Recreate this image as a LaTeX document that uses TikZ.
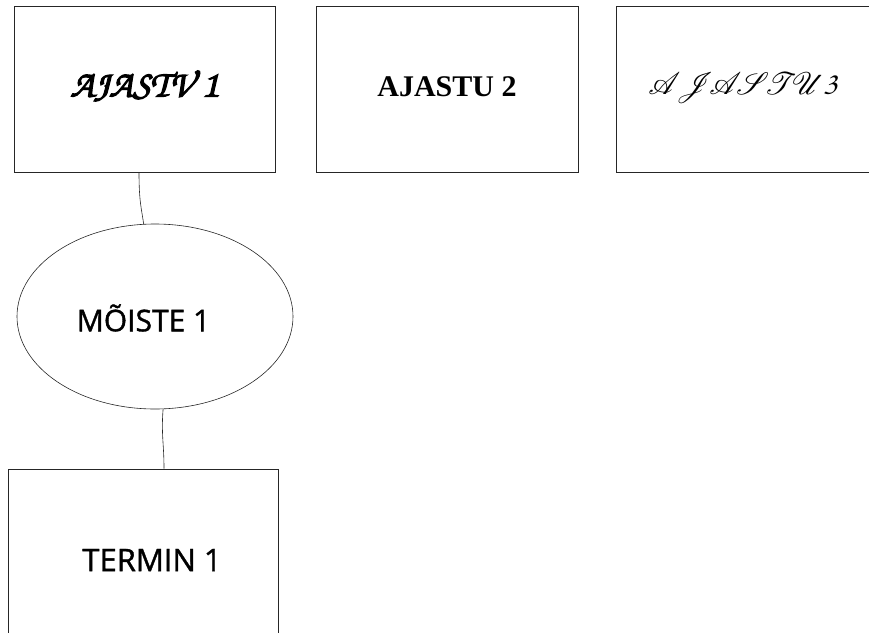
\documentclass[tikz,border=0pt]{standalone}
\usepackage[T1]{fontenc}
\usepackage{graphicx}
\usepackage{fontspec}
\setmainfont{Open Sans}
\newfontfamily\semib{Open Sans}[FakeBold=1.2]
\newfontfamily\serifbold{Liberation Serif}
\IfFileExists{t1pzc.fd}{%
  \newcommand\chanc{\fontencoding{T1}\fontfamily{pzc}\fontseries{mb}\fontshape{it}\selectfont}%
}{%
  \newcommand\chanc{\serifbold\itshape}%
}
\newif\ifhavescr
\IfFileExists{mathrsfs.sty}{\usepackage{mathrsfs}\havescrtrue}{\havescrfalse}
\newcommand\fancyscr[1]{\ifhavescr$\mathscr{#1}$\else{\chanc #1}\fi}
\newcommand\heavy[1]{\special{pdf:literal direct 2 Tr 1.1 w}#1\special{pdf:literal direct 0 Tr}}
\usetikzlibrary{shapes.geometric}
\tikzset{
  frame/.style={draw=black!85, line width=0.8pt, inner sep=0pt},
  boxnode/.style={frame, rectangle, minimum height=166pt},
  ellnode/.style={frame, ellipse, line width=0.6pt, minimum width=276pt, minimum height=185pt},
  txt/.style={inner sep=0pt, text=black},
  conn/.style={draw=black!85, line width=0.6pt}
}
\begin{document}
\begin{tikzpicture}[x=1pt,y=-1pt]
\useasboundingbox (0,0) rectangle (869,632);
\clip (0,0) rectangle (869,632);
\node[boxnode, minimum width=261pt] (a1) at (144.5,89) {};
\node[boxnode, minimum width=262pt] (a2) at (447,89) {};
\node[boxnode, minimum width=262pt] (a3) at (747,89) {};
\node[ellnode] (m1) at (155,316.5) {};
\node[boxnode, minimum width=270pt] (t1) at (143,552) {};
\node[txt] (a1t) at (144.5,86) {\chanc\fontsize{38}{38}\selectfont\heavy{AJASTV 1}};
\node[txt] (a2t) at (447,87) {\serifbold\bfseries\fontsize{30}{30}\selectfont AJASTU 2};
\node[txt] (a3t) at (743,88) {\scalebox{1.25}{\fontsize{32}{32}\selectfont\fancyscr{A}\kern-4pt\fancyscr{J}\kern-4pt\fancyscr{A}\kern-4pt\fancyscr{S}\kern-4pt\fancyscr{T}\kern-4pt\fancyscr{U}\kern-1pt{\chanc\fontsize{26}{26}\selectfont 3}}};
\node[txt] (m1t) at (143.5,318) {\semib\fontsize{30}{30}\selectfont MÕISTE 1};
\node[txt] (t1t) at (152,560) {\semib\fontsize{31}{30}\selectfont TERMIN 1};
\draw[conn] ([xshift=-5.5pt]a1.south) .. controls +(0,30) and +(-2,-15) .. (m1.97.5);
\draw[conn] (m1.275) .. controls +(-2,25) and +(0,-25) .. ([xshift=21pt]t1.north);
\end{tikzpicture}
\end{document}
